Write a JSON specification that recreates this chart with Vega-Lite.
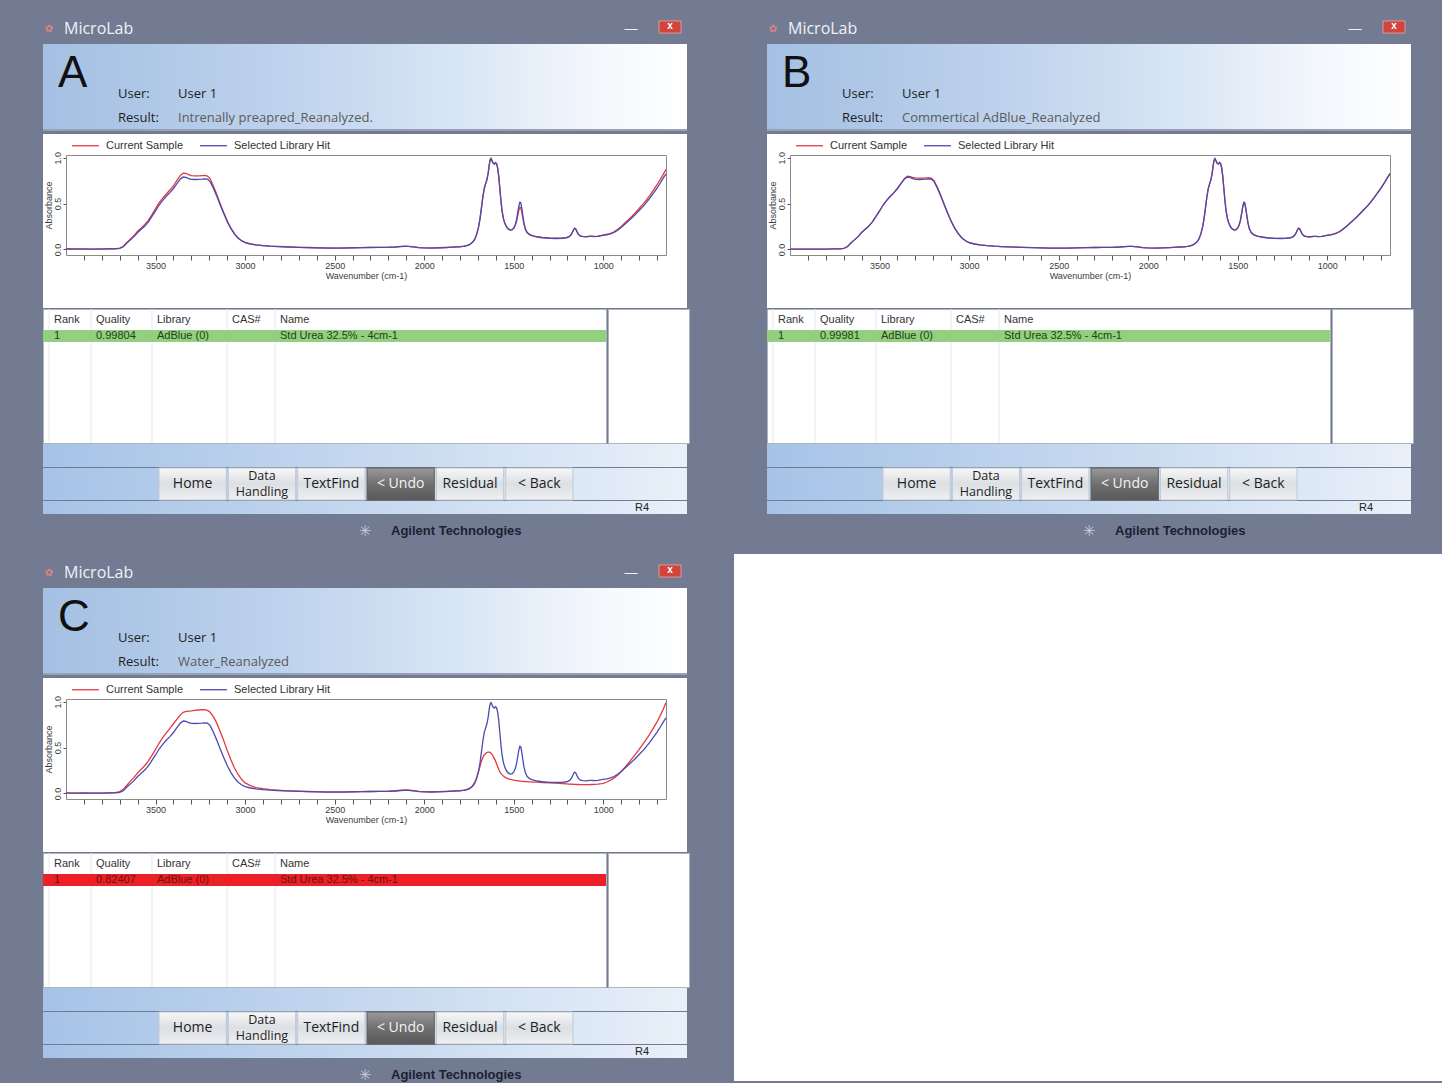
{
  "$schema": "https://vega.github.io/schema/vega-lite/v6.json",
  "background": "#737b93",
  "padding": {"left": 42, "top": 10, "right": 0, "bottom": 0},
  "config": {"view": {"stroke": null}, "font": "Liberation Sans"},
  "datasets": {
    "spectra": [
      {"w":4000,"library":0.005,"sampleA":0.008,"sampleB":0.005,"sampleC":0.006},
      {"w":3950,"library":0.004,"sampleA":0.006,"sampleB":0.004,"sampleC":0.005},
      {"w":3900,"library":0.005,"sampleA":0.007,"sampleB":0.005,"sampleC":0.006},
      {"w":3850,"library":0.003,"sampleA":0.005,"sampleB":0.003,"sampleC":0.004},
      {"w":3800,"library":0.004,"sampleA":0.006,"sampleB":0.004,"sampleC":0.005},
      {"w":3750,"library":0.006,"sampleA":0.008,"sampleB":0.006,"sampleC":0.008},
      {"w":3720,"library":0.008,"sampleA":0.010,"sampleB":0.008,"sampleC":0.012},
      {"w":3700,"library":0.012,"sampleA":0.016,"sampleB":0.012,"sampleC":0.020},
      {"w":3680,"library":0.030,"sampleA":0.035,"sampleB":0.030,"sampleC":0.045},
      {"w":3660,"library":0.070,"sampleA":0.078,"sampleB":0.070,"sampleC":0.090},
      {"w":3640,"library":0.105,"sampleA":0.115,"sampleB":0.105,"sampleC":0.135},
      {"w":3620,"library":0.140,"sampleA":0.152,"sampleB":0.140,"sampleC":0.175},
      {"w":3600,"library":0.185,"sampleA":0.200,"sampleB":0.185,"sampleC":0.225},
      {"w":3580,"library":0.220,"sampleA":0.235,"sampleB":0.220,"sampleC":0.265},
      {"w":3560,"library":0.255,"sampleA":0.272,"sampleB":0.255,"sampleC":0.305},
      {"w":3540,"library":0.300,"sampleA":0.318,"sampleB":0.300,"sampleC":0.355},
      {"w":3520,"library":0.360,"sampleA":0.380,"sampleB":0.360,"sampleC":0.415},
      {"w":3500,"library":0.420,"sampleA":0.445,"sampleB":0.420,"sampleC":0.480},
      {"w":3480,"library":0.485,"sampleA":0.510,"sampleB":0.485,"sampleC":0.550},
      {"w":3460,"library":0.535,"sampleA":0.560,"sampleB":0.535,"sampleC":0.610},
      {"w":3440,"library":0.580,"sampleA":0.605,"sampleB":0.580,"sampleC":0.660},
      {"w":3420,"library":0.620,"sampleA":0.648,"sampleB":0.620,"sampleC":0.710},
      {"w":3400,"library":0.665,"sampleA":0.695,"sampleB":0.665,"sampleC":0.760},
      {"w":3380,"library":0.720,"sampleA":0.755,"sampleB":0.720,"sampleC":0.810},
      {"w":3360,"library":0.770,"sampleA":0.810,"sampleB":0.775,"sampleC":0.860},
      {"w":3345,"library":0.790,"sampleA":0.833,"sampleB":0.800,"sampleC":0.885},
      {"w":3330,"library":0.785,"sampleA":0.830,"sampleB":0.795,"sampleC":0.895},
      {"w":3315,"library":0.772,"sampleA":0.815,"sampleB":0.785,"sampleC":0.898},
      {"w":3300,"library":0.765,"sampleA":0.806,"sampleB":0.780,"sampleC":0.900},
      {"w":3280,"library":0.763,"sampleA":0.803,"sampleB":0.778,"sampleC":0.905},
      {"w":3260,"library":0.764,"sampleA":0.803,"sampleB":0.778,"sampleC":0.910},
      {"w":3240,"library":0.767,"sampleA":0.805,"sampleB":0.780,"sampleC":0.915},
      {"w":3225,"library":0.770,"sampleA":0.807,"sampleB":0.782,"sampleC":0.913},
      {"w":3210,"library":0.766,"sampleA":0.800,"sampleB":0.776,"sampleC":0.905},
      {"w":3195,"library":0.740,"sampleA":0.770,"sampleB":0.748,"sampleC":0.885},
      {"w":3180,"library":0.680,"sampleA":0.705,"sampleB":0.688,"sampleC":0.845},
      {"w":3160,"library":0.590,"sampleA":0.610,"sampleB":0.600,"sampleC":0.775},
      {"w":3140,"library":0.490,"sampleA":0.505,"sampleB":0.500,"sampleC":0.680},
      {"w":3120,"library":0.395,"sampleA":0.405,"sampleB":0.400,"sampleC":0.580},
      {"w":3100,"library":0.305,"sampleA":0.312,"sampleB":0.310,"sampleC":0.470},
      {"w":3080,"library":0.230,"sampleA":0.235,"sampleB":0.232,"sampleC":0.370},
      {"w":3060,"library":0.170,"sampleA":0.172,"sampleB":0.172,"sampleC":0.280},
      {"w":3040,"library":0.125,"sampleA":0.127,"sampleB":0.126,"sampleC":0.210},
      {"w":3020,"library":0.095,"sampleA":0.096,"sampleB":0.095,"sampleC":0.155},
      {"w":3000,"library":0.076,"sampleA":0.077,"sampleB":0.076,"sampleC":0.115},
      {"w":2970,"library":0.060,"sampleA":0.061,"sampleB":0.060,"sampleC":0.085},
      {"w":2940,"library":0.050,"sampleA":0.050,"sampleB":0.050,"sampleC":0.065},
      {"w":2900,"library":0.042,"sampleA":0.043,"sampleB":0.042,"sampleC":0.052},
      {"w":2860,"library":0.036,"sampleA":0.037,"sampleB":0.036,"sampleC":0.043},
      {"w":2820,"library":0.032,"sampleA":0.033,"sampleB":0.032,"sampleC":0.037},
      {"w":2780,"library":0.029,"sampleA":0.030,"sampleB":0.029,"sampleC":0.032},
      {"w":2740,"library":0.026,"sampleA":0.027,"sampleB":0.026,"sampleC":0.028},
      {"w":2700,"library":0.023,"sampleA":0.024,"sampleB":0.023,"sampleC":0.025},
      {"w":2650,"library":0.021,"sampleA":0.022,"sampleB":0.021,"sampleC":0.022},
      {"w":2600,"library":0.018,"sampleA":0.019,"sampleB":0.018,"sampleC":0.020},
      {"w":2550,"library":0.016,"sampleA":0.017,"sampleB":0.016,"sampleC":0.018},
      {"w":2500,"library":0.015,"sampleA":0.016,"sampleB":0.015,"sampleC":0.017},
      {"w":2450,"library":0.016,"sampleA":0.017,"sampleB":0.016,"sampleC":0.018},
      {"w":2400,"library":0.018,"sampleA":0.019,"sampleB":0.018,"sampleC":0.019},
      {"w":2350,"library":0.020,"sampleA":0.021,"sampleB":0.020,"sampleC":0.021},
      {"w":2300,"library":0.022,"sampleA":0.023,"sampleB":0.022,"sampleC":0.022},
      {"w":2250,"library":0.023,"sampleA":0.024,"sampleB":0.023,"sampleC":0.024},
      {"w":2200,"library":0.024,"sampleA":0.025,"sampleB":0.024,"sampleC":0.025},
      {"w":2160,"library":0.027,"sampleA":0.028,"sampleB":0.027,"sampleC":0.030},
      {"w":2130,"library":0.032,"sampleA":0.033,"sampleB":0.032,"sampleC":0.036},
      {"w":2110,"library":0.035,"sampleA":0.036,"sampleB":0.035,"sampleC":0.039},
      {"w":2090,"library":0.034,"sampleA":0.035,"sampleB":0.034,"sampleC":0.038},
      {"w":2060,"library":0.028,"sampleA":0.029,"sampleB":0.028,"sampleC":0.032},
      {"w":2030,"library":0.020,"sampleA":0.021,"sampleB":0.020,"sampleC":0.024},
      {"w":2000,"library":0.017,"sampleA":0.018,"sampleB":0.017,"sampleC":0.020},
      {"w":1960,"library":0.016,"sampleA":0.017,"sampleB":0.016,"sampleC":0.019},
      {"w":1920,"library":0.018,"sampleA":0.019,"sampleB":0.018,"sampleC":0.020},
      {"w":1880,"library":0.021,"sampleA":0.022,"sampleB":0.021,"sampleC":0.024},
      {"w":1840,"library":0.025,"sampleA":0.026,"sampleB":0.025,"sampleC":0.027},
      {"w":1800,"library":0.030,"sampleA":0.031,"sampleB":0.030,"sampleC":0.032},
      {"w":1780,"library":0.035,"sampleA":0.036,"sampleB":0.035,"sampleC":0.037},
      {"w":1760,"library":0.043,"sampleA":0.044,"sampleB":0.043,"sampleC":0.046},
      {"w":1745,"library":0.055,"sampleA":0.056,"sampleB":0.055,"sampleC":0.058},
      {"w":1730,"library":0.078,"sampleA":0.080,"sampleB":0.078,"sampleC":0.085},
      {"w":1718,"library":0.110,"sampleA":0.112,"sampleB":0.110,"sampleC":0.120},
      {"w":1706,"library":0.170,"sampleA":0.172,"sampleB":0.170,"sampleC":0.180},
      {"w":1696,"library":0.250,"sampleA":0.252,"sampleB":0.250,"sampleC":0.245},
      {"w":1688,"library":0.340,"sampleA":0.342,"sampleB":0.340,"sampleC":0.300},
      {"w":1680,"library":0.460,"sampleA":0.462,"sampleB":0.460,"sampleC":0.355},
      {"w":1672,"library":0.580,"sampleA":0.582,"sampleB":0.580,"sampleC":0.395},
      {"w":1665,"library":0.660,"sampleA":0.662,"sampleB":0.660,"sampleC":0.420},
      {"w":1658,"library":0.710,"sampleA":0.712,"sampleB":0.710,"sampleC":0.435},
      {"w":1650,"library":0.760,"sampleA":0.762,"sampleB":0.760,"sampleC":0.447},
      {"w":1643,"library":0.830,"sampleA":0.832,"sampleB":0.830,"sampleC":0.452},
      {"w":1637,"library":0.920,"sampleA":0.922,"sampleB":0.920,"sampleC":0.452},
      {"w":1632,"library":0.975,"sampleA":0.978,"sampleB":0.975,"sampleC":0.448},
      {"w":1627,"library":0.990,"sampleA":0.993,"sampleB":0.990,"sampleC":0.440},
      {"w":1621,"library":0.965,"sampleA":0.968,"sampleB":0.968,"sampleC":0.425},
      {"w":1615,"library":0.940,"sampleA":0.942,"sampleB":0.940,"sampleC":0.405},
      {"w":1608,"library":0.930,"sampleA":0.932,"sampleB":0.932,"sampleC":0.380},
      {"w":1602,"library":0.945,"sampleA":0.947,"sampleB":0.950,"sampleC":0.355},
      {"w":1596,"library":0.935,"sampleA":0.936,"sampleB":0.940,"sampleC":0.325},
      {"w":1590,"library":0.890,"sampleA":0.890,"sampleB":0.895,"sampleC":0.295},
      {"w":1584,"library":0.800,"sampleA":0.800,"sampleB":0.805,"sampleC":0.265},
      {"w":1578,"library":0.670,"sampleA":0.670,"sampleB":0.675,"sampleC":0.240},
      {"w":1572,"library":0.540,"sampleA":0.540,"sampleB":0.545,"sampleC":0.220},
      {"w":1566,"library":0.430,"sampleA":0.430,"sampleB":0.435,"sampleC":0.205},
      {"w":1558,"library":0.340,"sampleA":0.340,"sampleB":0.342,"sampleC":0.190},
      {"w":1550,"library":0.285,"sampleA":0.285,"sampleB":0.287,"sampleC":0.178},
      {"w":1540,"library":0.245,"sampleA":0.246,"sampleB":0.247,"sampleC":0.168},
      {"w":1530,"library":0.222,"sampleA":0.224,"sampleB":0.224,"sampleC":0.160},
      {"w":1520,"library":0.212,"sampleA":0.214,"sampleB":0.214,"sampleC":0.155},
      {"w":1510,"library":0.215,"sampleA":0.216,"sampleB":0.217,"sampleC":0.150},
      {"w":1500,"library":0.235,"sampleA":0.232,"sampleB":0.236,"sampleC":0.146},
      {"w":1492,"library":0.270,"sampleA":0.262,"sampleB":0.270,"sampleC":0.143},
      {"w":1485,"library":0.320,"sampleA":0.300,"sampleB":0.318,"sampleC":0.141},
      {"w":1478,"library":0.400,"sampleA":0.365,"sampleB":0.395,"sampleC":0.139},
      {"w":1472,"library":0.470,"sampleA":0.425,"sampleB":0.465,"sampleC":0.137},
      {"w":1466,"library":0.515,"sampleA":0.460,"sampleB":0.505,"sampleC":0.135},
      {"w":1461,"library":0.510,"sampleA":0.455,"sampleB":0.500,"sampleC":0.134},
      {"w":1456,"library":0.460,"sampleA":0.415,"sampleB":0.455,"sampleC":0.133},
      {"w":1450,"library":0.380,"sampleA":0.350,"sampleB":0.376,"sampleC":0.132},
      {"w":1443,"library":0.290,"sampleA":0.275,"sampleB":0.288,"sampleC":0.131},
      {"w":1435,"library":0.225,"sampleA":0.218,"sampleB":0.224,"sampleC":0.130},
      {"w":1425,"library":0.185,"sampleA":0.183,"sampleB":0.185,"sampleC":0.129},
      {"w":1410,"library":0.160,"sampleA":0.162,"sampleB":0.160,"sampleC":0.127},
      {"w":1390,"library":0.145,"sampleA":0.148,"sampleB":0.146,"sampleC":0.125},
      {"w":1370,"library":0.136,"sampleA":0.140,"sampleB":0.137,"sampleC":0.123},
      {"w":1340,"library":0.128,"sampleA":0.133,"sampleB":0.129,"sampleC":0.120},
      {"w":1300,"library":0.122,"sampleA":0.127,"sampleB":0.123,"sampleC":0.116},
      {"w":1260,"library":0.120,"sampleA":0.124,"sampleB":0.121,"sampleC":0.112},
      {"w":1230,"library":0.122,"sampleA":0.126,"sampleB":0.123,"sampleC":0.108},
      {"w":1205,"library":0.128,"sampleA":0.131,"sampleB":0.129,"sampleC":0.105},
      {"w":1190,"library":0.140,"sampleA":0.142,"sampleB":0.141,"sampleC":0.103},
      {"w":1180,"library":0.160,"sampleA":0.162,"sampleB":0.161,"sampleC":0.102},
      {"w":1172,"library":0.190,"sampleA":0.190,"sampleB":0.190,"sampleC":0.101},
      {"w":1165,"library":0.220,"sampleA":0.218,"sampleB":0.220,"sampleC":0.100},
      {"w":1160,"library":0.232,"sampleA":0.228,"sampleB":0.232,"sampleC":0.100},
      {"w":1154,"library":0.225,"sampleA":0.222,"sampleB":0.225,"sampleC":0.099},
      {"w":1147,"library":0.195,"sampleA":0.194,"sampleB":0.196,"sampleC":0.098},
      {"w":1140,"library":0.168,"sampleA":0.168,"sampleB":0.169,"sampleC":0.098},
      {"w":1130,"library":0.148,"sampleA":0.150,"sampleB":0.149,"sampleC":0.097},
      {"w":1115,"library":0.140,"sampleA":0.143,"sampleB":0.141,"sampleC":0.096},
      {"w":1095,"library":0.138,"sampleA":0.141,"sampleB":0.139,"sampleC":0.096},
      {"w":1075,"library":0.142,"sampleA":0.145,"sampleB":0.143,"sampleC":0.097},
      {"w":1065,"library":0.143,"sampleA":0.146,"sampleB":0.144,"sampleC":0.098},
      {"w":1050,"library":0.140,"sampleA":0.143,"sampleB":0.141,"sampleC":0.100},
      {"w":1030,"library":0.142,"sampleA":0.146,"sampleB":0.143,"sampleC":0.103},
      {"w":1010,"library":0.150,"sampleA":0.155,"sampleB":0.151,"sampleC":0.107},
      {"w":1000,"library":0.155,"sampleA":0.160,"sampleB":0.156,"sampleC":0.110},
      {"w":980,"library":0.160,"sampleA":0.166,"sampleB":0.161,"sampleC":0.125},
      {"w":960,"library":0.170,"sampleA":0.177,"sampleB":0.171,"sampleC":0.145},
      {"w":940,"library":0.185,"sampleA":0.193,"sampleB":0.186,"sampleC":0.170},
      {"w":920,"library":0.210,"sampleA":0.220,"sampleB":0.211,"sampleC":0.200},
      {"w":900,"library":0.240,"sampleA":0.251,"sampleB":0.241,"sampleC":0.240},
      {"w":880,"library":0.275,"sampleA":0.288,"sampleB":0.276,"sampleC":0.285},
      {"w":860,"library":0.310,"sampleA":0.325,"sampleB":0.311,"sampleC":0.330},
      {"w":840,"library":0.345,"sampleA":0.362,"sampleB":0.347,"sampleC":0.380},
      {"w":820,"library":0.385,"sampleA":0.404,"sampleB":0.387,"sampleC":0.430},
      {"w":800,"library":0.425,"sampleA":0.447,"sampleB":0.427,"sampleC":0.480},
      {"w":780,"library":0.465,"sampleA":0.490,"sampleB":0.467,"sampleC":0.535},
      {"w":760,"library":0.510,"sampleA":0.537,"sampleB":0.512,"sampleC":0.590},
      {"w":740,"library":0.560,"sampleA":0.590,"sampleB":0.562,"sampleC":0.650},
      {"w":720,"library":0.615,"sampleA":0.648,"sampleB":0.617,"sampleC":0.715},
      {"w":700,"library":0.670,"sampleA":0.706,"sampleB":0.672,"sampleC":0.780},
      {"w":680,"library":0.730,"sampleA":0.770,"sampleB":0.732,"sampleC":0.860},
      {"w":665,"library":0.780,"sampleA":0.822,"sampleB":0.782,"sampleC":0.920},
      {"w":650,"library":0.825,"sampleA":0.870,"sampleB":0.830,"sampleC":0.990}
    ]
  },
  "spacing": 10,
  "resolve": {"scale": {"color": "independent"}, "legend": {"color": "independent"}},
  "vconcat": [
    {
      "spacing": 76,
      "resolve": {"scale": {"color": "independent"}, "legend": {"color": "independent"}},
      "hconcat": [
        {
          "spacing": 0,
          "resolve": {"scale": {"color": "independent"}, "legend": {"color": "independent"}},
          "vconcat": [
            {
              "width": 644, "height": 34,
              "view": {"stroke": null},
              "data": {"values": [
                {"pos": 0, "part": "icon", "text": "✿"},
                {"pos": 1, "part": "title", "text": "MicroLab"},
                {"pos": 2, "part": "min", "text": "—"},
                {"pos": 3, "part": "close", "text": "x"}
              ]},
              "encoding": {
                "x": {"field": "pos", "type": "quantitative", "scale": {"domain": [0, 1, 2, 3], "range": [6, 21, 588, 627]}, "axis": null},
                "text": {"field": "text"}
              },
              "layer": [
                {"transform": [{"filter": "datum.part === 'icon'"}], "mark": {"type": "text", "align": "center", "baseline": "middle", "dy": 2, "fontSize": 10, "font": "DejaVu Sans", "color": "#e58080"}},
                {"transform": [{"filter": "datum.part === 'title'"}], "mark": {"type": "text", "align": "left", "baseline": "middle", "dy": 2, "fontSize": 16, "font": "Open Sans", "color": "#eef1f7"}},
                {"transform": [{"filter": "datum.part === 'min'"}], "mark": {"type": "text", "align": "center", "baseline": "middle", "dy": 2, "fontSize": 13, "font": "Liberation Sans", "color": "#eef1f7"}},
                {"transform": [{"filter": "datum.part === 'close'"}], "mark": {"type": "point", "shape": "M-1,-0.55H1V0.55H-1Z", "size": 484, "filled": true, "fill": "#d0463f", "stroke": "#eda49f", "strokeWidth": 0.8, "opacity": 1}},
                {"transform": [{"filter": "datum.part === 'close'"}], "mark": {"type": "text", "align": "center", "baseline": "middle", "dy": -1, "fontSize": 10, "fontWeight": "bold", "font": "Liberation Sans", "color": "#ffffff"}}
              ]
            },
            {
              "width": 644, "height": 85,
              "view": {"fill": "#c3d6ef", "stroke": null},
              "layer": [
                {"data": {"values": [{"k": 1}]}, "mark": {"type": "rect", "color": {"gradient": "linear", "x1": 0, "y1": 0, "x2": 1, "y2": 0, "stops": [{"offset": 0, "color": "#a5c0e3"}, {"offset": 0.35, "color": "#bcd1ec"}, {"offset": 0.65, "color": "#d9e6f5"}, {"offset": 0.85, "color": "#f3f7fc"}, {"offset": 1, "color": "#ffffff"}]}}},
                {"data": {"values": [{"slot": "letter", "line": "letter", "text": "A"}]},
                  "mark": {"type": "text", "align": "left", "baseline": "middle", "fontSize": 44, "font": "Liberation Sans", "color": "#111111"},
                  "encoding": {
                    "x": {"field": "slot", "type": "nominal", "scale": {"type": "point", "domain": ["letter", "key", "val"], "range": [15, 135], "padding": 0}, "axis": null},
                    "y": {"field": "line", "type": "nominal", "scale": {"type": "point", "domain": ["letter", "User", "Result"], "range": [30, 78], "padding": 0}, "axis": null},
                    "text": {"field": "text"}
                  }},
                {"data": {"values": [
                    {"slot": "key", "line": "User", "text": "User:"},
                    {"slot": "val", "line": "User", "text": "User 1"},
                    {"slot": "key", "line": "Result", "text": "Result:"},
                    {"slot": "val", "line": "Result", "text": "Intrenally preapred_Reanalyzed."}
                  ]},
                  "mark": {"type": "text", "align": "left", "baseline": "alphabetic", "fontSize": 13, "font": "Open Sans"},
                  "encoding": {
                    "x": {"field": "slot", "type": "nominal", "axis": null},
                    "y": {"field": "line", "type": "nominal", "axis": null},
                    "text": {"field": "text"},
                    "color": {"condition": {"test": "datum.slot === 'val' && datum.line === 'Result'", "value": "#5b5b5b"}, "value": "#1e1e1e"}
                  }}
              ]
            },
            {
              "width": 644, "height": 2,
              "view": {"fill": "#98a1b3", "stroke": null},
              "data": {"values": [{"k": 1}]},
              "mark": {"type": "point", "opacity": 0, "size": 1}
            },
            {
              "width": 644, "height": 174,
              "view": {"fill": "#ffffff", "stroke": null},
              "layer": [
                {
                  "data": {"name": "spectra"},
                  "transform": [{"fold": ["sampleA", "library"], "as": ["series", "absorbance"]}],
                  "mark": {"type": "line", "strokeWidth": 1.3},
                  "encoding": {
                    "x": {"field": "w", "type": "quantitative", "scale": {"domain": [4000, 650], "range": [23, 623], "nice": false, "zero": false},
                      "axis": {"orient": "bottom", "offset": -53, "values": [3900,3800,3700,3600,3500,3400,3300,3200,3100,3000,2900,2800,2700,2600,2500,2400,2300,2200,2100,2000,1900,1800,1700,1600,1500,1400,1300,1200,1100,1000,900,800,700], "labelExpr": "datum.value % 500 === 0 ? datum.label : ''", "format": "d", "title": "Wavenumber (cm-1)", "titleFont": "Liberation Sans", "titleFontSize": 9, "titleFontWeight": "normal", "titleColor": "#3a3a3a", "titlePadding": 1, "labelFont": "Liberation Sans", "labelFontSize": 9, "labelColor": "#3a3a3a", "labelPadding": 1, "tickSize": 5, "tickColor": "#555555", "domainColor": "#8a8a8a", "grid": false, "labelOverlap": false, "labelFlush": false}},
                    "y": {"field": "absorbance", "type": "quantitative", "scale": {"domain": [-0.06, 1.03], "range": [121, 21], "nice": false, "zero": false},
                      "axis": {"orient": "left", "offset": -23, "values": [0, 0.5, 1], "format": ".1f", "labelAngle": 270, "labelAlign": "center", "labelBaseline": "bottom", "labelFont": "Liberation Sans", "labelFontSize": 9, "labelColor": "#3a3a3a", "labelPadding": 1, "tickSize": 3, "tickColor": "#555555", "domainColor": "#8a8a8a", "grid": false, "title": "Absorbance", "titleFont": "Liberation Sans", "titleFontSize": 9, "titleFontWeight": "normal", "titleColor": "#3a3a3a", "titlePadding": 0}},
                    "color": {"field": "series", "type": "nominal", "scale": {"domain": ["sampleA", "library"], "range": ["#e33a3f", "#4b4bb0"]},
                      "legend": {"orient": "none", "legendX": 28, "legendY": -3, "direction": "horizontal", "title": null, "symbolType": "stroke", "symbolSize": 729, "symbolStrokeWidth": 1.3, "labelFont": "Liberation Sans", "labelFontSize": 11, "labelColor": "#333333", "columnPadding": 13, "labelOffset": 6, "padding": 0, "labelExpr": "datum.value === 'library' ? 'Selected Library Hit' : 'Current Sample'"}}
                  }
                },
                {
                  "data": {"name": "spectra"},
                  "mark": {"type": "point", "opacity": 0, "size": 1},
                  "encoding": {
                    "x": {"field": "w", "type": "quantitative", "axis": {"orient": "top", "offset": -21, "labels": false, "ticks": false, "title": null, "domainColor": "#8a8a8a", "grid": false}},
                    "y": {"field": "library", "type": "quantitative", "axis": {"orient": "right", "offset": -21, "labels": false, "ticks": false, "title": null, "domainColor": "#8a8a8a", "grid": false}}
                  }
                }
              ]
            },
            {
              "spacing": 0,
              "hconcat": [
                {
                  "width": 563, "height": 134,
                  "view": {"fill": "#ffffff", "stroke": "#aeb4be"},
                  "layer": [
                    {"data": {"values": [{"col": 1}, {"col": 2}, {"col": 3}, {"col": 4}, {"col": 5}]},
                      "mark": {"type": "rule", "color": "#e9e9e9", "strokeWidth": 1},
                      "encoding": {"x": {"field": "col", "type": "quantitative", "scale": {"domain": [1, 2, 3, 4, 5], "range": [6, 48, 109, 184, 232]}, "axis": null}}},
                    {"data": {"values": [{"row": "1"}]}, "mark": {"type": "rect", "color": "#92cf7e"},
                      "encoding": {"y": {"field": "row", "type": "nominal", "scale": {"type": "band", "domain": ["head", "1"], "range": [3, 35], "paddingInner": 0.25, "paddingOuter": 0.125}, "axis": null}}},
                    {"data": {"values": [
                        {"col": 1, "row": "head", "text": "Rank"},
                        {"col": 2, "row": "head", "text": "Quality"},
                        {"col": 3, "row": "head", "text": "Library"},
                        {"col": 4, "row": "head", "text": "CAS#"},
                        {"col": 5, "row": "head", "text": "Name"},
                        {"col": 1, "row": "1", "text": "1"},
                        {"col": 2, "row": "1", "text": "0.99804"},
                        {"col": 3, "row": "1", "text": "AdBlue (0)"},
                        {"col": 5, "row": "1", "text": "Std Urea 32.5% - 4cm-1"}
                      ]},
                      "mark": {"type": "text", "align": "left", "baseline": "middle", "dx": 5, "fontSize": 11, "font": "Liberation Sans"},
                      "encoding": {
                        "x": {"field": "col", "type": "quantitative", "axis": null},
                        "y": {"field": "row", "type": "nominal", "axis": null},
                        "text": {"field": "text"},
                        "color": {"condition": {"test": "datum.row === '1'", "value": "#26401d"}, "value": "#333333"}
                      }}
                  ]
                },
                {
                  "width": 81, "height": 134,
                  "view": {"fill": "#ffffff", "stroke": "#aeb4be"},
                  "data": {"values": [{"k": 1}]},
                  "mark": {"type": "point", "opacity": 0, "size": 1}
                }
              ]
            },
            {
              "width": 644, "height": 23,
              "view": {"fill": "#bbd0ec", "stroke": null},
              "data": {"values": [{"k": 1}]},
              "mark": {"type": "rect", "color": {"gradient": "linear", "x1": 0, "y1": 0, "x2": 1, "y2": 0, "stops": [{"offset": 0, "color": "#a6c3e7"}, {"offset": 0.5, "color": "#c5d8ef"}, {"offset": 1, "color": "#e9f0f9"}]}}
            },
            {
              "width": 644, "height": 32,
              "view": {"fill": "#bbd0ec", "stroke": null},
              "layer": [
                {"data": {"values": [{"k": 1}]}, "mark": {"type": "rect", "color": {"gradient": "linear", "x1": 0, "y1": 0, "x2": 1, "y2": 0, "stops": [{"offset": 0, "color": "#a6c3e7"}, {"offset": 0.5, "color": "#c5d8ef"}, {"offset": 1, "color": "#e9f0f9"}]}}},
                {"data": {"values": [{"label": "Home"}, {"label": "Data\nHandling"}, {"label": "TextFind"}, {"label": "Residual"}, {"label": "< Back"}]},
                  "mark": {"type": "rect", "stroke": "#c3c9d1", "strokeWidth": 1, "color": {"gradient": "linear", "x1": 0, "y1": 0, "x2": 0, "y2": 1, "stops": [{"offset": 0, "color": "#f6f7f8"}, {"offset": 0.5, "color": "#dcdfe3"}, {"offset": 1, "color": "#eef0f2"}]}},
                  "encoding": {
                    "x": {"field": "label", "type": "nominal", "sort": null, "scale": {"type": "band", "domain": ["Home", "Data\nHandling", "TextFind", "< Undo", "Residual", "< Back"], "range": [116, 530], "paddingInner": 0.03, "paddingOuter": 0}, "axis": null}
                  }},
                {"data": {"values": [{"label": "< Undo"}]},
                  "mark": {"type": "rect", "stroke": "#5e5e5e", "strokeWidth": 1, "color": {"gradient": "linear", "x1": 0, "y1": 0, "x2": 0, "y2": 1, "stops": [{"offset": 0, "color": "#9a9a9a"}, {"offset": 0.5, "color": "#707070"}, {"offset": 1, "color": "#5a5a5a"}]}},
                  "encoding": {"x": {"field": "label", "type": "nominal", "sort": null, "axis": null}}},
                {"data": {"values": [{"label": "Home"}, {"label": "TextFind"}, {"label": "Residual"}, {"label": "< Back"}]},
                  "mark": {"type": "text", "align": "center", "baseline": "middle", "fontSize": 14, "font": "Open Sans", "color": "#1e1e1e"},
                  "encoding": {"x": {"field": "label", "type": "nominal", "sort": null, "axis": null}, "text": {"field": "label"}}},
                {"data": {"values": [{"label": "< Undo"}]},
                  "mark": {"type": "text", "align": "center", "baseline": "middle", "fontSize": 14, "font": "Open Sans", "color": "#f4f4f4"},
                  "encoding": {"x": {"field": "label", "type": "nominal", "sort": null, "axis": null}, "text": {"field": "label"}}},
                {"data": {"values": [{"label": "Data\nHandling"}]},
                  "mark": {"type": "text", "align": "center", "baseline": "middle", "dy": -8, "fontSize": 12.5, "font": "Open Sans", "lineBreak": "\n", "lineHeight": 16, "color": "#1e1e1e"},
                  "encoding": {"x": {"field": "label", "type": "nominal", "sort": null, "axis": null}, "text": {"field": "label"}}}
              ]
            },
            {
              "width": 644, "height": 13,
              "view": {"fill": "#bbd0ec", "stroke": null},
              "layer": [
                {"data": {"values": [{"k": 1}]}, "mark": {"type": "rect", "color": {"gradient": "linear", "x1": 0, "y1": 0, "x2": 1, "y2": 0, "stops": [{"offset": 0, "color": "#a6c3e7"}, {"offset": 0.5, "color": "#c5d8ef"}, {"offset": 1, "color": "#e9f0f9"}]}}},
                {"data": {"values": [{"tag": "R4"}]},
                  "mark": {"type": "text", "align": "left", "baseline": "middle", "fontSize": 11, "font": "Liberation Sans", "color": "#222222"},
                  "encoding": {
                    "x": {"field": "tag", "type": "nominal", "scale": {"type": "point", "domain": ["R4"], "range": [592, 592]}, "axis": null},
                    "text": {"field": "tag"}
                  }}
              ]
            },
            {
              "width": 644, "height": 30,
              "view": {"stroke": null},
              "data": {"values": [
                {"pos": 1, "part": "logo", "text": "✳"},
                {"pos": 2, "part": "brand", "text": "Agilent Technologies"}
              ]},
              "encoding": {
                "x": {"field": "pos", "type": "quantitative", "scale": {"domain": [1, 2], "range": [322, 348]}, "axis": null},
                "text": {"field": "text"}
              },
              "layer": [
                {"transform": [{"filter": "datum.part === 'logo'"}], "mark": {"type": "text", "align": "center", "baseline": "middle", "dy": 2, "fontSize": 15, "font": "DejaVu Sans", "color": "#c5cad6"}},
                {"transform": [{"filter": "datum.part === 'brand'"}], "mark": {"type": "text", "align": "left", "baseline": "middle", "dy": 2, "fontSize": 13, "fontWeight": "bold", "font": "Liberation Sans", "color": "#1b2133"}}
              ]
            }
          ]
        },
        {
          "spacing": 0,
          "resolve": {"scale": {"color": "independent"}, "legend": {"color": "independent"}},
          "vconcat": [
            {
              "width": 644, "height": 34,
              "view": {"stroke": null},
              "data": {"values": [
                {"pos": 0, "part": "icon", "text": "✿"},
                {"pos": 1, "part": "title", "text": "MicroLab"},
                {"pos": 2, "part": "min", "text": "—"},
                {"pos": 3, "part": "close", "text": "x"}
              ]},
              "encoding": {
                "x": {"field": "pos", "type": "quantitative", "scale": {"domain": [0, 1, 2, 3], "range": [6, 21, 588, 627]}, "axis": null},
                "text": {"field": "text"}
              },
              "layer": [
                {"transform": [{"filter": "datum.part === 'icon'"}], "mark": {"type": "text", "align": "center", "baseline": "middle", "dy": 2, "fontSize": 10, "font": "DejaVu Sans", "color": "#e58080"}},
                {"transform": [{"filter": "datum.part === 'title'"}], "mark": {"type": "text", "align": "left", "baseline": "middle", "dy": 2, "fontSize": 16, "font": "Open Sans", "color": "#eef1f7"}},
                {"transform": [{"filter": "datum.part === 'min'"}], "mark": {"type": "text", "align": "center", "baseline": "middle", "dy": 2, "fontSize": 13, "font": "Liberation Sans", "color": "#eef1f7"}},
                {"transform": [{"filter": "datum.part === 'close'"}], "mark": {"type": "point", "shape": "M-1,-0.55H1V0.55H-1Z", "size": 484, "filled": true, "fill": "#d0463f", "stroke": "#eda49f", "strokeWidth": 0.8, "opacity": 1}},
                {"transform": [{"filter": "datum.part === 'close'"}], "mark": {"type": "text", "align": "center", "baseline": "middle", "dy": -1, "fontSize": 10, "fontWeight": "bold", "font": "Liberation Sans", "color": "#ffffff"}}
              ]
            },
            {
              "width": 644, "height": 85,
              "view": {"fill": "#c3d6ef", "stroke": null},
              "layer": [
                {"data": {"values": [{"k": 1}]}, "mark": {"type": "rect", "color": {"gradient": "linear", "x1": 0, "y1": 0, "x2": 1, "y2": 0, "stops": [{"offset": 0, "color": "#a5c0e3"}, {"offset": 0.35, "color": "#bcd1ec"}, {"offset": 0.65, "color": "#d9e6f5"}, {"offset": 0.85, "color": "#f3f7fc"}, {"offset": 1, "color": "#ffffff"}]}}},
                {"data": {"values": [{"slot": "letter", "line": "letter", "text": "B"}]},
                  "mark": {"type": "text", "align": "left", "baseline": "middle", "fontSize": 44, "font": "Liberation Sans", "color": "#111111"},
                  "encoding": {
                    "x": {"field": "slot", "type": "nominal", "scale": {"type": "point", "domain": ["letter", "key", "val"], "range": [15, 135], "padding": 0}, "axis": null},
                    "y": {"field": "line", "type": "nominal", "scale": {"type": "point", "domain": ["letter", "User", "Result"], "range": [30, 78], "padding": 0}, "axis": null},
                    "text": {"field": "text"}
                  }},
                {"data": {"values": [
                    {"slot": "key", "line": "User", "text": "User:"},
                    {"slot": "val", "line": "User", "text": "User 1"},
                    {"slot": "key", "line": "Result", "text": "Result:"},
                    {"slot": "val", "line": "Result", "text": "Commertical AdBlue_Reanalyzed"}
                  ]},
                  "mark": {"type": "text", "align": "left", "baseline": "alphabetic", "fontSize": 13, "font": "Open Sans"},
                  "encoding": {
                    "x": {"field": "slot", "type": "nominal", "axis": null},
                    "y": {"field": "line", "type": "nominal", "axis": null},
                    "text": {"field": "text"},
                    "color": {"condition": {"test": "datum.slot === 'val' && datum.line === 'Result'", "value": "#5b5b5b"}, "value": "#1e1e1e"}
                  }}
              ]
            },
            {
              "width": 644, "height": 2,
              "view": {"fill": "#98a1b3", "stroke": null},
              "data": {"values": [{"k": 1}]},
              "mark": {"type": "point", "opacity": 0, "size": 1}
            },
            {
              "width": 644, "height": 174,
              "view": {"fill": "#ffffff", "stroke": null},
              "layer": [
                {
                  "data": {"name": "spectra"},
                  "transform": [{"fold": ["sampleB", "library"], "as": ["series", "absorbance"]}],
                  "mark": {"type": "line", "strokeWidth": 1.3},
                  "encoding": {
                    "x": {"field": "w", "type": "quantitative", "scale": {"domain": [4000, 650], "range": [23, 623], "nice": false, "zero": false},
                      "axis": {"orient": "bottom", "offset": -53, "values": [3900,3800,3700,3600,3500,3400,3300,3200,3100,3000,2900,2800,2700,2600,2500,2400,2300,2200,2100,2000,1900,1800,1700,1600,1500,1400,1300,1200,1100,1000,900,800,700], "labelExpr": "datum.value % 500 === 0 ? datum.label : ''", "format": "d", "title": "Wavenumber (cm-1)", "titleFont": "Liberation Sans", "titleFontSize": 9, "titleFontWeight": "normal", "titleColor": "#3a3a3a", "titlePadding": 1, "labelFont": "Liberation Sans", "labelFontSize": 9, "labelColor": "#3a3a3a", "labelPadding": 1, "tickSize": 5, "tickColor": "#555555", "domainColor": "#8a8a8a", "grid": false, "labelOverlap": false, "labelFlush": false}},
                    "y": {"field": "absorbance", "type": "quantitative", "scale": {"domain": [-0.06, 1.03], "range": [121, 21], "nice": false, "zero": false},
                      "axis": {"orient": "left", "offset": -23, "values": [0, 0.5, 1], "format": ".1f", "labelAngle": 270, "labelAlign": "center", "labelBaseline": "bottom", "labelFont": "Liberation Sans", "labelFontSize": 9, "labelColor": "#3a3a3a", "labelPadding": 1, "tickSize": 3, "tickColor": "#555555", "domainColor": "#8a8a8a", "grid": false, "title": "Absorbance", "titleFont": "Liberation Sans", "titleFontSize": 9, "titleFontWeight": "normal", "titleColor": "#3a3a3a", "titlePadding": 0}},
                    "color": {"field": "series", "type": "nominal", "scale": {"domain": ["sampleB", "library"], "range": ["#e33a3f", "#4b4bb0"]},
                      "legend": {"orient": "none", "legendX": 28, "legendY": -3, "direction": "horizontal", "title": null, "symbolType": "stroke", "symbolSize": 729, "symbolStrokeWidth": 1.3, "labelFont": "Liberation Sans", "labelFontSize": 11, "labelColor": "#333333", "columnPadding": 13, "labelOffset": 6, "padding": 0, "labelExpr": "datum.value === 'library' ? 'Selected Library Hit' : 'Current Sample'"}}
                  }
                },
                {
                  "data": {"name": "spectra"},
                  "mark": {"type": "point", "opacity": 0, "size": 1},
                  "encoding": {
                    "x": {"field": "w", "type": "quantitative", "axis": {"orient": "top", "offset": -21, "labels": false, "ticks": false, "title": null, "domainColor": "#8a8a8a", "grid": false}},
                    "y": {"field": "library", "type": "quantitative", "axis": {"orient": "right", "offset": -21, "labels": false, "ticks": false, "title": null, "domainColor": "#8a8a8a", "grid": false}}
                  }
                }
              ]
            },
            {
              "spacing": 0,
              "hconcat": [
                {
                  "width": 563, "height": 134,
                  "view": {"fill": "#ffffff", "stroke": "#aeb4be"},
                  "layer": [
                    {"data": {"values": [{"col": 1}, {"col": 2}, {"col": 3}, {"col": 4}, {"col": 5}]},
                      "mark": {"type": "rule", "color": "#e9e9e9", "strokeWidth": 1},
                      "encoding": {"x": {"field": "col", "type": "quantitative", "scale": {"domain": [1, 2, 3, 4, 5], "range": [6, 48, 109, 184, 232]}, "axis": null}}},
                    {"data": {"values": [{"row": "1"}]}, "mark": {"type": "rect", "color": "#92cf7e"},
                      "encoding": {"y": {"field": "row", "type": "nominal", "scale": {"type": "band", "domain": ["head", "1"], "range": [3, 35], "paddingInner": 0.25, "paddingOuter": 0.125}, "axis": null}}},
                    {"data": {"values": [
                        {"col": 1, "row": "head", "text": "Rank"},
                        {"col": 2, "row": "head", "text": "Quality"},
                        {"col": 3, "row": "head", "text": "Library"},
                        {"col": 4, "row": "head", "text": "CAS#"},
                        {"col": 5, "row": "head", "text": "Name"},
                        {"col": 1, "row": "1", "text": "1"},
                        {"col": 2, "row": "1", "text": "0.99981"},
                        {"col": 3, "row": "1", "text": "AdBlue (0)"},
                        {"col": 5, "row": "1", "text": "Std Urea 32.5% - 4cm-1"}
                      ]},
                      "mark": {"type": "text", "align": "left", "baseline": "middle", "dx": 5, "fontSize": 11, "font": "Liberation Sans"},
                      "encoding": {
                        "x": {"field": "col", "type": "quantitative", "axis": null},
                        "y": {"field": "row", "type": "nominal", "axis": null},
                        "text": {"field": "text"},
                        "color": {"condition": {"test": "datum.row === '1'", "value": "#26401d"}, "value": "#333333"}
                      }}
                  ]
                },
                {
                  "width": 81, "height": 134,
                  "view": {"fill": "#ffffff", "stroke": "#aeb4be"},
                  "data": {"values": [{"k": 1}]},
                  "mark": {"type": "point", "opacity": 0, "size": 1}
                }
              ]
            },
            {
              "width": 644, "height": 23,
              "view": {"fill": "#bbd0ec", "stroke": null},
              "data": {"values": [{"k": 1}]},
              "mark": {"type": "rect", "color": {"gradient": "linear", "x1": 0, "y1": 0, "x2": 1, "y2": 0, "stops": [{"offset": 0, "color": "#a6c3e7"}, {"offset": 0.5, "color": "#c5d8ef"}, {"offset": 1, "color": "#e9f0f9"}]}}
            },
            {
              "width": 644, "height": 32,
              "view": {"fill": "#bbd0ec", "stroke": null},
              "layer": [
                {"data": {"values": [{"k": 1}]}, "mark": {"type": "rect", "color": {"gradient": "linear", "x1": 0, "y1": 0, "x2": 1, "y2": 0, "stops": [{"offset": 0, "color": "#a6c3e7"}, {"offset": 0.5, "color": "#c5d8ef"}, {"offset": 1, "color": "#e9f0f9"}]}}},
                {"data": {"values": [{"label": "Home"}, {"label": "Data\nHandling"}, {"label": "TextFind"}, {"label": "Residual"}, {"label": "< Back"}]},
                  "mark": {"type": "rect", "stroke": "#c3c9d1", "strokeWidth": 1, "color": {"gradient": "linear", "x1": 0, "y1": 0, "x2": 0, "y2": 1, "stops": [{"offset": 0, "color": "#f6f7f8"}, {"offset": 0.5, "color": "#dcdfe3"}, {"offset": 1, "color": "#eef0f2"}]}},
                  "encoding": {
                    "x": {"field": "label", "type": "nominal", "sort": null, "scale": {"type": "band", "domain": ["Home", "Data\nHandling", "TextFind", "< Undo", "Residual", "< Back"], "range": [116, 530], "paddingInner": 0.03, "paddingOuter": 0}, "axis": null}
                  }},
                {"data": {"values": [{"label": "< Undo"}]},
                  "mark": {"type": "rect", "stroke": "#5e5e5e", "strokeWidth": 1, "color": {"gradient": "linear", "x1": 0, "y1": 0, "x2": 0, "y2": 1, "stops": [{"offset": 0, "color": "#9a9a9a"}, {"offset": 0.5, "color": "#707070"}, {"offset": 1, "color": "#5a5a5a"}]}},
                  "encoding": {"x": {"field": "label", "type": "nominal", "sort": null, "axis": null}}},
                {"data": {"values": [{"label": "Home"}, {"label": "TextFind"}, {"label": "Residual"}, {"label": "< Back"}]},
                  "mark": {"type": "text", "align": "center", "baseline": "middle", "fontSize": 14, "font": "Open Sans", "color": "#1e1e1e"},
                  "encoding": {"x": {"field": "label", "type": "nominal", "sort": null, "axis": null}, "text": {"field": "label"}}},
                {"data": {"values": [{"label": "< Undo"}]},
                  "mark": {"type": "text", "align": "center", "baseline": "middle", "fontSize": 14, "font": "Open Sans", "color": "#f4f4f4"},
                  "encoding": {"x": {"field": "label", "type": "nominal", "sort": null, "axis": null}, "text": {"field": "label"}}},
                {"data": {"values": [{"label": "Data\nHandling"}]},
                  "mark": {"type": "text", "align": "center", "baseline": "middle", "dy": -8, "fontSize": 12.5, "font": "Open Sans", "lineBreak": "\n", "lineHeight": 16, "color": "#1e1e1e"},
                  "encoding": {"x": {"field": "label", "type": "nominal", "sort": null, "axis": null}, "text": {"field": "label"}}}
              ]
            },
            {
              "width": 644, "height": 13,
              "view": {"fill": "#bbd0ec", "stroke": null},
              "layer": [
                {"data": {"values": [{"k": 1}]}, "mark": {"type": "rect", "color": {"gradient": "linear", "x1": 0, "y1": 0, "x2": 1, "y2": 0, "stops": [{"offset": 0, "color": "#a6c3e7"}, {"offset": 0.5, "color": "#c5d8ef"}, {"offset": 1, "color": "#e9f0f9"}]}}},
                {"data": {"values": [{"tag": "R4"}]},
                  "mark": {"type": "text", "align": "left", "baseline": "middle", "fontSize": 11, "font": "Liberation Sans", "color": "#222222"},
                  "encoding": {
                    "x": {"field": "tag", "type": "nominal", "scale": {"type": "point", "domain": ["R4"], "range": [592, 592]}, "axis": null},
                    "text": {"field": "tag"}
                  }}
              ]
            },
            {
              "width": 644, "height": 30,
              "view": {"stroke": null},
              "data": {"values": [
                {"pos": 1, "part": "logo", "text": "✳"},
                {"pos": 2, "part": "brand", "text": "Agilent Technologies"}
              ]},
              "encoding": {
                "x": {"field": "pos", "type": "quantitative", "scale": {"domain": [1, 2], "range": [322, 348]}, "axis": null},
                "text": {"field": "text"}
              },
              "layer": [
                {"transform": [{"filter": "datum.part === 'logo'"}], "mark": {"type": "text", "align": "center", "baseline": "middle", "dy": 2, "fontSize": 15, "font": "DejaVu Sans", "color": "#c5cad6"}},
                {"transform": [{"filter": "datum.part === 'brand'"}], "mark": {"type": "text", "align": "left", "baseline": "middle", "dy": 2, "fontSize": 13, "fontWeight": "bold", "font": "Liberation Sans", "color": "#1b2133"}}
              ]
            }
          ]
        }
      ]
    },
    {
      "spacing": 44,
      "resolve": {"scale": {"color": "independent"}, "legend": {"color": "independent"}},
      "hconcat": [
        {
          "spacing": 0,
          "resolve": {"scale": {"color": "independent"}, "legend": {"color": "independent"}},
          "vconcat": [
            {
              "width": 644, "height": 34,
              "view": {"stroke": null},
              "data": {"values": [
                {"pos": 0, "part": "icon", "text": "✿"},
                {"pos": 1, "part": "title", "text": "MicroLab"},
                {"pos": 2, "part": "min", "text": "—"},
                {"pos": 3, "part": "close", "text": "x"}
              ]},
              "encoding": {
                "x": {"field": "pos", "type": "quantitative", "scale": {"domain": [0, 1, 2, 3], "range": [6, 21, 588, 627]}, "axis": null},
                "text": {"field": "text"}
              },
              "layer": [
                {"transform": [{"filter": "datum.part === 'icon'"}], "mark": {"type": "text", "align": "center", "baseline": "middle", "dy": 2, "fontSize": 10, "font": "DejaVu Sans", "color": "#e58080"}},
                {"transform": [{"filter": "datum.part === 'title'"}], "mark": {"type": "text", "align": "left", "baseline": "middle", "dy": 2, "fontSize": 16, "font": "Open Sans", "color": "#eef1f7"}},
                {"transform": [{"filter": "datum.part === 'min'"}], "mark": {"type": "text", "align": "center", "baseline": "middle", "dy": 2, "fontSize": 13, "font": "Liberation Sans", "color": "#eef1f7"}},
                {"transform": [{"filter": "datum.part === 'close'"}], "mark": {"type": "point", "shape": "M-1,-0.55H1V0.55H-1Z", "size": 484, "filled": true, "fill": "#d0463f", "stroke": "#eda49f", "strokeWidth": 0.8, "opacity": 1}},
                {"transform": [{"filter": "datum.part === 'close'"}], "mark": {"type": "text", "align": "center", "baseline": "middle", "dy": -1, "fontSize": 10, "fontWeight": "bold", "font": "Liberation Sans", "color": "#ffffff"}}
              ]
            },
            {
              "width": 644, "height": 85,
              "view": {"fill": "#c3d6ef", "stroke": null},
              "layer": [
                {"data": {"values": [{"k": 1}]}, "mark": {"type": "rect", "color": {"gradient": "linear", "x1": 0, "y1": 0, "x2": 1, "y2": 0, "stops": [{"offset": 0, "color": "#a5c0e3"}, {"offset": 0.35, "color": "#bcd1ec"}, {"offset": 0.65, "color": "#d9e6f5"}, {"offset": 0.85, "color": "#f3f7fc"}, {"offset": 1, "color": "#ffffff"}]}}},
                {"data": {"values": [{"slot": "letter", "line": "letter", "text": "C"}]},
                  "mark": {"type": "text", "align": "left", "baseline": "middle", "fontSize": 44, "font": "Liberation Sans", "color": "#111111"},
                  "encoding": {
                    "x": {"field": "slot", "type": "nominal", "scale": {"type": "point", "domain": ["letter", "key", "val"], "range": [15, 135], "padding": 0}, "axis": null},
                    "y": {"field": "line", "type": "nominal", "scale": {"type": "point", "domain": ["letter", "User", "Result"], "range": [30, 78], "padding": 0}, "axis": null},
                    "text": {"field": "text"}
                  }},
                {"data": {"values": [
                    {"slot": "key", "line": "User", "text": "User:"},
                    {"slot": "val", "line": "User", "text": "User 1"},
                    {"slot": "key", "line": "Result", "text": "Result:"},
                    {"slot": "val", "line": "Result", "text": "Water_Reanalyzed"}
                  ]},
                  "mark": {"type": "text", "align": "left", "baseline": "alphabetic", "fontSize": 13, "font": "Open Sans"},
                  "encoding": {
                    "x": {"field": "slot", "type": "nominal", "axis": null},
                    "y": {"field": "line", "type": "nominal", "axis": null},
                    "text": {"field": "text"},
                    "color": {"condition": {"test": "datum.slot === 'val' && datum.line === 'Result'", "value": "#5b5b5b"}, "value": "#1e1e1e"}
                  }}
              ]
            },
            {
              "width": 644, "height": 2,
              "view": {"fill": "#98a1b3", "stroke": null},
              "data": {"values": [{"k": 1}]},
              "mark": {"type": "point", "opacity": 0, "size": 1}
            },
            {
              "width": 644, "height": 174,
              "view": {"fill": "#ffffff", "stroke": null},
              "layer": [
                {
                  "data": {"name": "spectra"},
                  "transform": [{"fold": ["sampleC", "library"], "as": ["series", "absorbance"]}],
                  "mark": {"type": "line", "strokeWidth": 1.3},
                  "encoding": {
                    "x": {"field": "w", "type": "quantitative", "scale": {"domain": [4000, 650], "range": [23, 623], "nice": false, "zero": false},
                      "axis": {"orient": "bottom", "offset": -53, "values": [3900,3800,3700,3600,3500,3400,3300,3200,3100,3000,2900,2800,2700,2600,2500,2400,2300,2200,2100,2000,1900,1800,1700,1600,1500,1400,1300,1200,1100,1000,900,800,700], "labelExpr": "datum.value % 500 === 0 ? datum.label : ''", "format": "d", "title": "Wavenumber (cm-1)", "titleFont": "Liberation Sans", "titleFontSize": 9, "titleFontWeight": "normal", "titleColor": "#3a3a3a", "titlePadding": 1, "labelFont": "Liberation Sans", "labelFontSize": 9, "labelColor": "#3a3a3a", "labelPadding": 1, "tickSize": 5, "tickColor": "#555555", "domainColor": "#8a8a8a", "grid": false, "labelOverlap": false, "labelFlush": false}},
                    "y": {"field": "absorbance", "type": "quantitative", "scale": {"domain": [-0.06, 1.03], "range": [121, 21], "nice": false, "zero": false},
                      "axis": {"orient": "left", "offset": -23, "values": [0, 0.5, 1], "format": ".1f", "labelAngle": 270, "labelAlign": "center", "labelBaseline": "bottom", "labelFont": "Liberation Sans", "labelFontSize": 9, "labelColor": "#3a3a3a", "labelPadding": 1, "tickSize": 3, "tickColor": "#555555", "domainColor": "#8a8a8a", "grid": false, "title": "Absorbance", "titleFont": "Liberation Sans", "titleFontSize": 9, "titleFontWeight": "normal", "titleColor": "#3a3a3a", "titlePadding": 0}},
                    "color": {"field": "series", "type": "nominal", "scale": {"domain": ["sampleC", "library"], "range": ["#e33a3f", "#4b4bb0"]},
                      "legend": {"orient": "none", "legendX": 28, "legendY": -3, "direction": "horizontal", "title": null, "symbolType": "stroke", "symbolSize": 729, "symbolStrokeWidth": 1.3, "labelFont": "Liberation Sans", "labelFontSize": 11, "labelColor": "#333333", "columnPadding": 13, "labelOffset": 6, "padding": 0, "labelExpr": "datum.value === 'library' ? 'Selected Library Hit' : 'Current Sample'"}}
                  }
                },
                {
                  "data": {"name": "spectra"},
                  "mark": {"type": "point", "opacity": 0, "size": 1},
                  "encoding": {
                    "x": {"field": "w", "type": "quantitative", "axis": {"orient": "top", "offset": -21, "labels": false, "ticks": false, "title": null, "domainColor": "#8a8a8a", "grid": false}},
                    "y": {"field": "library", "type": "quantitative", "axis": {"orient": "right", "offset": -21, "labels": false, "ticks": false, "title": null, "domainColor": "#8a8a8a", "grid": false}}
                  }
                }
              ]
            },
            {
              "spacing": 0,
              "hconcat": [
                {
                  "width": 563, "height": 134,
                  "view": {"fill": "#ffffff", "stroke": "#aeb4be"},
                  "layer": [
                    {"data": {"values": [{"col": 1}, {"col": 2}, {"col": 3}, {"col": 4}, {"col": 5}]},
                      "mark": {"type": "rule", "color": "#e9e9e9", "strokeWidth": 1},
                      "encoding": {"x": {"field": "col", "type": "quantitative", "scale": {"domain": [1, 2, 3, 4, 5], "range": [6, 48, 109, 184, 232]}, "axis": null}}},
                    {"data": {"values": [{"row": "1"}]}, "mark": {"type": "rect", "color": "#ec2027"},
                      "encoding": {"y": {"field": "row", "type": "nominal", "scale": {"type": "band", "domain": ["head", "1"], "range": [3, 35], "paddingInner": 0.25, "paddingOuter": 0.125}, "axis": null}}},
                    {"data": {"values": [
                        {"col": 1, "row": "head", "text": "Rank"},
                        {"col": 2, "row": "head", "text": "Quality"},
                        {"col": 3, "row": "head", "text": "Library"},
                        {"col": 4, "row": "head", "text": "CAS#"},
                        {"col": 5, "row": "head", "text": "Name"},
                        {"col": 1, "row": "1", "text": "1"},
                        {"col": 2, "row": "1", "text": "0.82407"},
                        {"col": 3, "row": "1", "text": "AdBlue (0)"},
                        {"col": 5, "row": "1", "text": "Std Urea 32.5% - 4cm-1"}
                      ]},
                      "mark": {"type": "text", "align": "left", "baseline": "middle", "dx": 5, "fontSize": 11, "font": "Liberation Sans"},
                      "encoding": {
                        "x": {"field": "col", "type": "quantitative", "axis": null},
                        "y": {"field": "row", "type": "nominal", "axis": null},
                        "text": {"field": "text"},
                        "color": {"condition": {"test": "datum.row === '1'", "value": "#6a1212"}, "value": "#333333"}
                      }}
                  ]
                },
                {
                  "width": 81, "height": 134,
                  "view": {"fill": "#ffffff", "stroke": "#aeb4be"},
                  "data": {"values": [{"k": 1}]},
                  "mark": {"type": "point", "opacity": 0, "size": 1}
                }
              ]
            },
            {
              "width": 644, "height": 23,
              "view": {"fill": "#bbd0ec", "stroke": null},
              "data": {"values": [{"k": 1}]},
              "mark": {"type": "rect", "color": {"gradient": "linear", "x1": 0, "y1": 0, "x2": 1, "y2": 0, "stops": [{"offset": 0, "color": "#a6c3e7"}, {"offset": 0.5, "color": "#c5d8ef"}, {"offset": 1, "color": "#e9f0f9"}]}}
            },
            {
              "width": 644, "height": 32,
              "view": {"fill": "#bbd0ec", "stroke": null},
              "layer": [
                {"data": {"values": [{"k": 1}]}, "mark": {"type": "rect", "color": {"gradient": "linear", "x1": 0, "y1": 0, "x2": 1, "y2": 0, "stops": [{"offset": 0, "color": "#a6c3e7"}, {"offset": 0.5, "color": "#c5d8ef"}, {"offset": 1, "color": "#e9f0f9"}]}}},
                {"data": {"values": [{"label": "Home"}, {"label": "Data\nHandling"}, {"label": "TextFind"}, {"label": "Residual"}, {"label": "< Back"}]},
                  "mark": {"type": "rect", "stroke": "#c3c9d1", "strokeWidth": 1, "color": {"gradient": "linear", "x1": 0, "y1": 0, "x2": 0, "y2": 1, "stops": [{"offset": 0, "color": "#f6f7f8"}, {"offset": 0.5, "color": "#dcdfe3"}, {"offset": 1, "color": "#eef0f2"}]}},
                  "encoding": {
                    "x": {"field": "label", "type": "nominal", "sort": null, "scale": {"type": "band", "domain": ["Home", "Data\nHandling", "TextFind", "< Undo", "Residual", "< Back"], "range": [116, 530], "paddingInner": 0.03, "paddingOuter": 0}, "axis": null}
                  }},
                {"data": {"values": [{"label": "< Undo"}]},
                  "mark": {"type": "rect", "stroke": "#5e5e5e", "strokeWidth": 1, "color": {"gradient": "linear", "x1": 0, "y1": 0, "x2": 0, "y2": 1, "stops": [{"offset": 0, "color": "#9a9a9a"}, {"offset": 0.5, "color": "#707070"}, {"offset": 1, "color": "#5a5a5a"}]}},
                  "encoding": {"x": {"field": "label", "type": "nominal", "sort": null, "axis": null}}},
                {"data": {"values": [{"label": "Home"}, {"label": "TextFind"}, {"label": "Residual"}, {"label": "< Back"}]},
                  "mark": {"type": "text", "align": "center", "baseline": "middle", "fontSize": 14, "font": "Open Sans", "color": "#1e1e1e"},
                  "encoding": {"x": {"field": "label", "type": "nominal", "sort": null, "axis": null}, "text": {"field": "label"}}},
                {"data": {"values": [{"label": "< Undo"}]},
                  "mark": {"type": "text", "align": "center", "baseline": "middle", "fontSize": 14, "font": "Open Sans", "color": "#f4f4f4"},
                  "encoding": {"x": {"field": "label", "type": "nominal", "sort": null, "axis": null}, "text": {"field": "label"}}},
                {"data": {"values": [{"label": "Data\nHandling"}]},
                  "mark": {"type": "text", "align": "center", "baseline": "middle", "dy": -8, "fontSize": 12.5, "font": "Open Sans", "lineBreak": "\n", "lineHeight": 16, "color": "#1e1e1e"},
                  "encoding": {"x": {"field": "label", "type": "nominal", "sort": null, "axis": null}, "text": {"field": "label"}}}
              ]
            },
            {
              "width": 644, "height": 13,
              "view": {"fill": "#bbd0ec", "stroke": null},
              "layer": [
                {"data": {"values": [{"k": 1}]}, "mark": {"type": "rect", "color": {"gradient": "linear", "x1": 0, "y1": 0, "x2": 1, "y2": 0, "stops": [{"offset": 0, "color": "#a6c3e7"}, {"offset": 0.5, "color": "#c5d8ef"}, {"offset": 1, "color": "#e9f0f9"}]}}},
                {"data": {"values": [{"tag": "R4"}]},
                  "mark": {"type": "text", "align": "left", "baseline": "middle", "fontSize": 11, "font": "Liberation Sans", "color": "#222222"},
                  "encoding": {
                    "x": {"field": "tag", "type": "nominal", "scale": {"type": "point", "domain": ["R4"], "range": [592, 592]}, "axis": null},
                    "text": {"field": "tag"}
                  }}
              ]
            },
            {
              "width": 644, "height": 30,
              "view": {"stroke": null},
              "data": {"values": [
                {"pos": 1, "part": "logo", "text": "✳"},
                {"pos": 2, "part": "brand", "text": "Agilent Technologies"}
              ]},
              "encoding": {
                "x": {"field": "pos", "type": "quantitative", "scale": {"domain": [1, 2], "range": [322, 348]}, "axis": null},
                "text": {"field": "text"}
              },
              "layer": [
                {"transform": [{"filter": "datum.part === 'logo'"}], "mark": {"type": "text", "align": "center", "baseline": "middle", "dy": 2, "fontSize": 15, "font": "DejaVu Sans", "color": "#c5cad6"}},
                {"transform": [{"filter": "datum.part === 'brand'"}], "mark": {"type": "text", "align": "left", "baseline": "middle", "dy": 2, "fontSize": 13, "fontWeight": "bold", "font": "Liberation Sans", "color": "#1b2133"}}
              ]
            }
          ]
        },
        {
          "spacing": 0,
          "vconcat": [
            {
              "width": 712, "height": 527,
              "view": {"fill": "#ffffff", "stroke": null},
              "data": {"values": [{"k": 1}]},
              "mark": {"type": "point", "opacity": 0, "size": 1}
            }
          ]
        }
      ]
    }
  ]
}
